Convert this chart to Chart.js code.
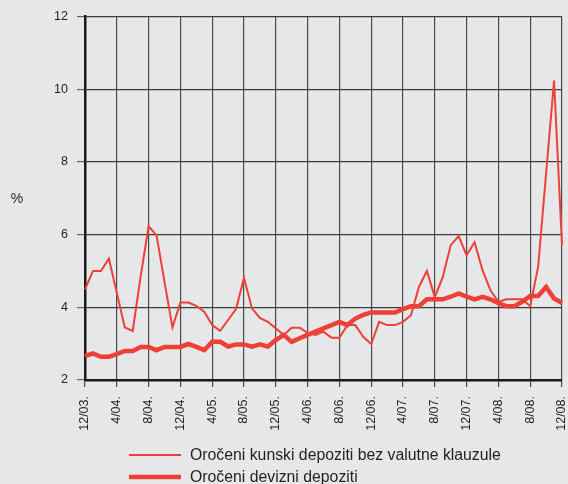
<!DOCTYPE html>
<html>
<head>
<meta charset="utf-8">
<script src="https://cdn.jsdelivr.net/npm/chart.js@4"></script>
<style>
    html, body { margin: 0; padding: 0; background: #e6e7e8; }
    #wrap { width: 568px; height: 484px; position: relative; }
</style>
</head>
<body>
<div id="wrap"><canvas id="chart" width="568" height="484"></canvas></div>
<script>
const months = [
    '12/03.',
    '1/04.', '2/04.', '3/04.', '4/04.', '5/04.', '6/04.', '7/04.', '8/04.', '9/04.', '10/04.', '11/04.', '12/04.',
    '1/05.', '2/05.', '3/05.', '4/05.', '5/05.', '6/05.', '7/05.', '8/05.', '9/05.', '10/05.', '11/05.', '12/05.',
    '1/06.', '2/06.', '3/06.', '4/06.', '5/06.', '6/06.', '7/06.', '8/06.', '9/06.', '10/06.', '11/06.', '12/06.',
    '1/07.', '2/07.', '3/07.', '4/07.', '5/07.', '6/07.', '7/07.', '8/07.', '9/07.', '10/07.', '11/07.', '12/07.',
    '1/08.', '2/08.', '3/08.', '4/08.', '5/08.', '6/08.', '7/08.', '8/08.', '9/08.', '10/08.', '11/08.', '12/08.'
];

// Oročeni kunski depoziti bez valutne klauzule (%)
const kunski = [
    4.49, 5.0, 5.0, 5.34, 4.4, 3.45, 3.35, 4.85, 6.23, 5.98,
    4.7, 3.45, 4.13, 4.13, 4.04, 3.88, 3.51, 3.35, 3.65, 3.95,
    4.81, 3.97, 3.71, 3.60, 3.42, 3.24, 3.44, 3.44, 3.30, 3.24,
    3.33, 3.16, 3.16, 3.51, 3.51, 3.19, 2.99, 3.60, 3.51, 3.51,
    3.60, 3.78, 4.56, 5.0, 4.28, 4.83, 5.71, 5.96, 5.43, 5.79,
    5.02, 4.47, 4.15, 4.22, 4.22, 4.22, 4.03, 5.12, 7.68, 10.24,
    5.71
];

// Oročeni devizni depoziti (%)
const devizni = [
    2.66, 2.73, 2.64, 2.64, 2.71, 2.80, 2.80, 2.91, 2.91, 2.82,
    2.91, 2.91, 2.91, 2.99, 2.91, 2.82, 3.05, 3.05, 2.92, 2.98,
    2.98, 2.92, 2.98, 2.92, 3.10, 3.24, 3.05, 3.15, 3.24, 3.33,
    3.42, 3.51, 3.60, 3.51, 3.69, 3.79, 3.86, 3.86, 3.86, 3.86,
    3.95, 4.03, 4.03, 4.22, 4.22, 4.22, 4.29, 4.38, 4.29, 4.22,
    4.29, 4.22, 4.11, 4.03, 4.03, 4.15, 4.31, 4.31, 4.56, 4.24,
    4.12
];

const seriesNames = ['Oročeni kunski depoziti bez valutne klauzule', 'Oročeni devizni depoziti'];
const red = '#ee4036';
const fontFamily = '"Liberation Sans", Arial, sans-serif';
const tickEvery = 4;

// draws the "%" label and the stacked legend under the axis
const extrasPlugin = {
    id: 'extras',
    afterDraw(chart) {
        const { ctx, chartArea } = chart;
        ctx.save();
        ctx.fillStyle = '#231f20';
        ctx.font = '14px ' + fontFamily;
        ctx.textBaseline = 'middle';
        ctx.textAlign = 'center';
        ctx.fillText('%', 17, 199);

        ctx.font = '15.8px ' + fontFamily;
        ctx.textAlign = 'left';
        chart.data.datasets.forEach((ds, i) => {
            const y = chartArea.bottom + 75 + i * 22;
            ctx.strokeStyle = ds.borderColor;
            ctx.lineWidth = ds.borderWidth;
            ctx.beginPath();
            ctx.moveTo(129, y);
            ctx.lineTo(181, y);
            ctx.stroke();
            ctx.fillText(ds.label, 190, y + 1);
        });
        ctx.restore();
    }
};

const gridColor = (c) => (c.index % tickEvery === 0 ? '#4a4a4a' : 'rgba(0,0,0,0)');

new Chart(document.getElementById('chart'), {
    type: 'line',
    data: {
        labels: months,
        datasets: [
            {
                label: seriesNames[0],
                data: kunski,
                borderColor: red,
                borderWidth: 2,
                pointRadius: 0,
                tension: 0
            },
            {
                label: seriesNames[1],
                data: devizni,
                borderColor: red,
                borderWidth: 4.5,
                pointRadius: 0,
                tension: 0
            }
        ]
    },
    options: {
        responsive: false,
        animation: false,
        layout: { padding: { left: 0, right: 6, top: 16, bottom: 0 } },
        plugins: {
            legend: { display: false },
            tooltip: { enabled: false }
        },
        scales: {
            x: {
                border: { color: '#1a1a1a', width: 2.5 },
                grid: {
                    color: gridColor,
                    tickColor: gridColor,
                    lineWidth: 1.2,
                    tickLength: 7
                },
                ticks: {
                    autoSkip: false,
                    minRotation: 90,
                    maxRotation: 90,
                    padding: 9,
                    color: '#231f20',
                    font: { family: fontFamily, size: 12.5 },
                    callback: (v, i) => (i % tickEvery === 0 ? months[i] : '')
                },
                afterFit(scale) {
                    scale.height = 104;
                    scale.paddingRight = 0;
                    scale.paddingLeft = 0;
                }
            },
            y: {
                min: 2,
                max: 12,
                border: { color: '#1a1a1a', width: 2.5 },
                grid: {
                    color: '#3c3c3c',
                    tickColor: '#666',
                    lineWidth: 1.2,
                    tickLength: 8
                },
                ticks: {
                    stepSize: 2,
                    padding: 9,
                    color: '#231f20',
                    font: { family: fontFamily, size: 12.5 }
                },
                afterFit(scale) {
                    scale.width = 85;
                }
            }
        }
    },
    plugins: [extrasPlugin]
});
</script>
</body>
</html>
